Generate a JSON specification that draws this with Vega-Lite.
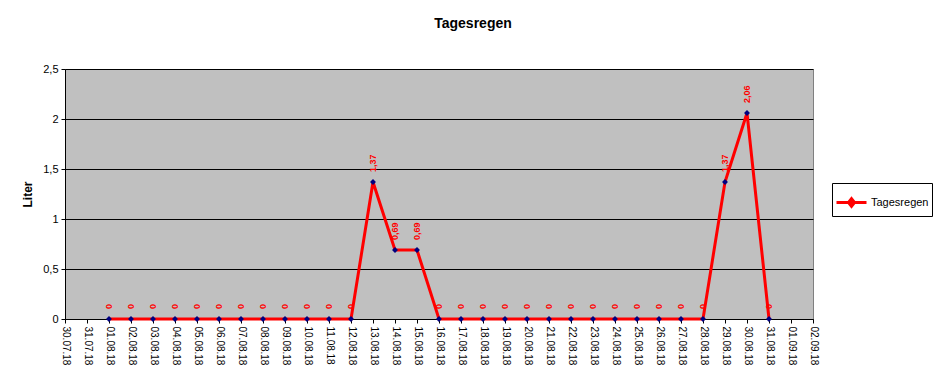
{
  "$schema": "https://vega.github.io/schema/vega-lite/v6.json",
  "width": 748,
  "height": 250,
  "autosize": "none",
  "padding": {"left": 65, "top": 69, "right": 133, "bottom": 56},
  "background": "white",
  "config": {
    "locale": {"number": {"decimal": ",", "thousands": ".", "grouping": [3], "currency": ["", " €"]}},
    "view": {"fill": "#C0C0C0", "stroke": "#808080"},
    "font": "Liberation Sans"
  },
  "title": {"text": "Tagesregen", "fontSize": 14, "fontWeight": "bold", "font": "Liberation Sans", "anchor": "middle", "dx": 34, "offset": 32, "color": "black"},
  "data": {"values": [
    {"date": "01.08.18", "liter": 0},
    {"date": "02.08.18", "liter": 0},
    {"date": "03.08.18", "liter": 0},
    {"date": "04.08.18", "liter": 0},
    {"date": "05.08.18", "liter": 0},
    {"date": "06.08.18", "liter": 0},
    {"date": "07.08.18", "liter": 0},
    {"date": "08.08.18", "liter": 0},
    {"date": "09.08.18", "liter": 0},
    {"date": "10.08.18", "liter": 0},
    {"date": "11.08.18", "liter": 0},
    {"date": "12.08.18", "liter": 0},
    {"date": "13.08.18", "liter": 1.37},
    {"date": "14.08.18", "liter": 0.69},
    {"date": "15.08.18", "liter": 0.69},
    {"date": "16.08.18", "liter": 0},
    {"date": "17.08.18", "liter": 0},
    {"date": "18.08.18", "liter": 0},
    {"date": "19.08.18", "liter": 0},
    {"date": "20.08.18", "liter": 0},
    {"date": "21.08.18", "liter": 0},
    {"date": "22.08.18", "liter": 0},
    {"date": "23.08.18", "liter": 0},
    {"date": "24.08.18", "liter": 0},
    {"date": "25.08.18", "liter": 0},
    {"date": "26.08.18", "liter": 0},
    {"date": "27.08.18", "liter": 0},
    {"date": "28.08.18", "liter": 0},
    {"date": "29.08.18", "liter": 1.37},
    {"date": "30.08.18", "liter": 2.06},
    {"date": "31.08.18", "liter": 0}
  ]},
  "encoding": {
    "x": {
      "field": "date", "type": "ordinal", "sort": null,
      "scale": {"type": "point", "padding": 0, "domain": ["30.07.18","31.07.18","01.08.18","02.08.18","03.08.18","04.08.18","05.08.18","06.08.18","07.08.18","08.08.18","09.08.18","10.08.18","11.08.18","12.08.18","13.08.18","14.08.18","15.08.18","16.08.18","17.08.18","18.08.18","19.08.18","20.08.18","21.08.18","22.08.18","23.08.18","24.08.18","25.08.18","26.08.18","27.08.18","28.08.18","29.08.18","30.08.18","31.08.18","01.09.18","02.09.18"]},
      "axis": {"title": null, "grid": false, "labelAngle": 90, "labelAlign": "left", "labelBaseline": "middle", "labelFontSize": 10, "labelColor": "black", "labelPadding": 3, "tickColor": "black", "tickSize": 4, "domainColor": "black", "labelFont": "Liberation Sans"}
    },
    "y": {
      "field": "liter", "type": "quantitative",
      "scale": {"domain": [0, 2.5], "nice": false},
      "axis": {"title": "Liter", "titleFontSize": 12, "titleFontWeight": "bold", "titleColor": "black", "titlePadding": 8, "values": [0, 0.5, 1, 1.5, 2, 2.5], "format": "~g", "labelFontSize": 11, "labelColor": "black", "labelPadding": 3, "tickColor": "black", "tickSize": 4, "domainColor": "black", "gridColor": "black", "gridOpacity": 1, "labelFont": "Liberation Sans", "titleFont": "Liberation Sans"}
    }
  },
  "layer": [
    {
      "mark": {"type": "line", "strokeWidth": 3},
      "encoding": {
        "color": {
          "datum": "Tagesregen",
          "scale": {"range": ["#FF0000"]},
          "legend": {"title": null, "orient": "none", "legendX": 767, "legendY": 114, "strokeColor": "black", "fillColor": "white", "padding": 3, "labelFontSize": 11, "labelColor": "black", "labelFont": "Liberation Sans", "symbolType": "M-1,0H1M0,-0.25L0.2,0L0,0.25L-0.2,0Z", "symbolSize": 900, "symbolStrokeWidth": 3, "labelOffset": 3}
        }
      }
    },
    {
      "mark": {"type": "point", "shape": "diamond", "filled": true, "size": 35, "color": "#000080", "opacity": 1}
    },
    {
      "mark": {"type": "text", "angle": -90, "align": "left", "baseline": "middle", "dx": 10, "fontSize": 9, "fontWeight": "bold", "color": "#FF0000", "font": "Liberation Sans"},
      "encoding": {"text": {"field": "liter", "type": "quantitative", "format": "~g"}}
    }
  ]
}
